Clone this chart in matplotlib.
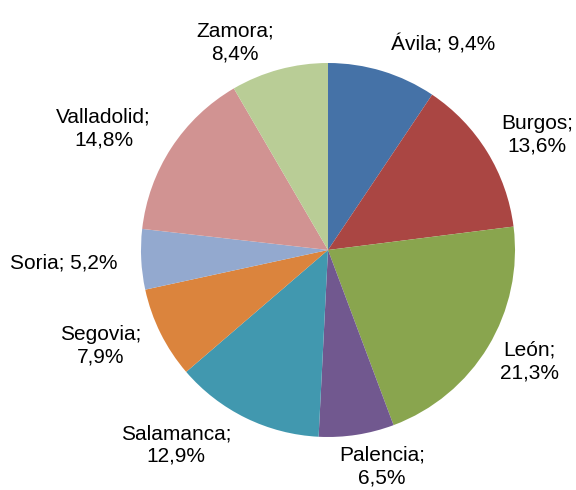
import matplotlib
matplotlib.use('Agg')
import matplotlib.pyplot as plt

provincias = ['Ávila', 'Burgos', 'León', 'Palencia', 'Salamanca',
              'Segovia', 'Soria', 'Valladolid', 'Zamora']
porcentajes = [9.4, 13.6, 21.3, 6.5, 12.9, 7.9, 5.2, 14.8, 8.4]
colores = ['#4572A7', '#AA4643', '#89A54E', '#71588F', '#4198AF',
           '#DB843D', '#93A9CF', '#D19392', '#B9CD96']
una_linea = ['Ávila', 'Soria']

etiquetas = []
for nombre, p in zip(provincias, porcentajes):
    pct = ('%.1f%%' % p).replace('.', ',')
    sep = ' ' if nombre in una_linea else '\n'
    etiquetas.append(nombre + ';' + sep + pct)

plt.rcParams['font.family'] = ['Liberation Sans', 'DejaVu Sans']

fig = plt.figure(figsize=(5.76, 4.9), dpi=100)
ax = fig.add_axes([0, 0, 1, 1])
wedges, texts = ax.pie(porcentajes, labels=etiquetas, colors=colores,
                       startangle=90, counterclock=False,
                       labeldistance=1.15,
                       textprops={'fontsize': 15, 'color': 'black'})

r = 187.0
# small nudges (pixels) so labels sit where Excel put them
nudge = {'Burgos': (-10, 2), 'León': (-12, 0), 'Palencia': (-22, -4),
         'Salamanca': (-2, -2), 'Segovia': (6, 0), 'Soria': (4, -2),
         'Valladolid': (3, 4), 'Zamora': (2, 0)}
for nombre, t in zip(provincias, texts):
    t.set_multialignment('center')
    t.set_linespacing(1.25)
    dx, dy = nudge.get(nombre, (0, 0))
    x, y = t.get_position()
    t.set_position((x + dx / r, y + dy / r))

ax.set_xlim(-328 / r, (576 - 328) / r)
ax.set_ylim(-240 / r, 250 / r)
ax.set_aspect('equal')
ax.axis('off')

fig.savefig('out.png', dpi=100)
